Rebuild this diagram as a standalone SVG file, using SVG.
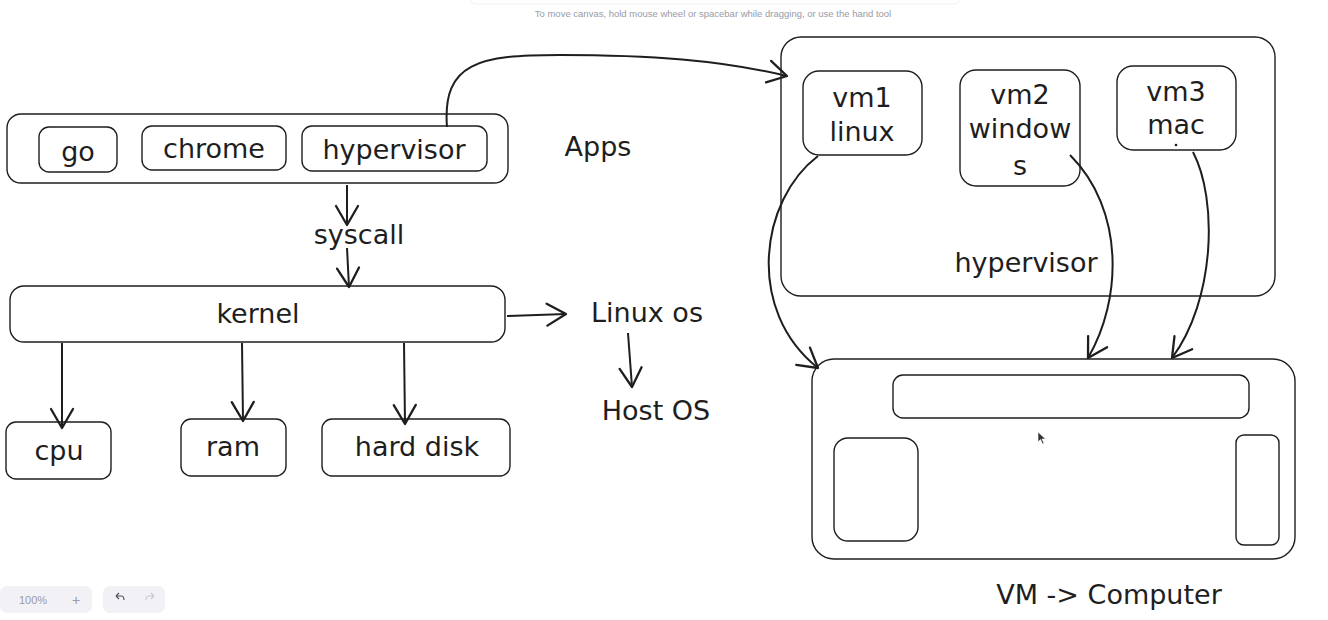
<svg xmlns="http://www.w3.org/2000/svg" width="1328" height="620" viewBox="0 0 1328 620">
<style>
.box{fill:none;stroke:#1e1e1e;stroke-width:1.4}
.lbl{font-family:"DejaVu Sans","Liberation Sans",sans-serif;font-size:27px;fill:#1e1e1e;text-anchor:middle;dominant-baseline:central}
.conn{fill:none;stroke:#1e1e1e;stroke-width:2}
.ui{font-family:"Liberation Sans","DejaVu Sans",sans-serif;fill:#9a9aa6;text-anchor:middle;dominant-baseline:central}
</style>
<defs>
<marker id="ah" viewBox="-22 -14 24 28" markerWidth="24" markerHeight="28" refX="0" refY="0" orient="auto" markerUnits="userSpaceOnUse">
<path d="M -19 -11 L 0 0 L -19 11" fill="none" stroke="#1e1e1e" stroke-width="2.3" stroke-linecap="round" stroke-linejoin="round"/>
</marker>
</defs>
<rect width="1328" height="620" fill="#ffffff"/>

<!-- UI chrome -->
<rect x="470" y="-10" width="490" height="14" rx="6" fill="#ffffff" stroke="#f0f0f3" stroke-width="1"/>
<text class="ui" x="713" y="13" font-size="9.5">To move canvas, hold mouse wheel or spacebar while dragging, or use the hand tool</text>
<rect x="0" y="586" width="92" height="27" rx="7" fill="#f1f1f6"/>
<text class="ui" x="33" y="600" font-size="11" fill="#55555f">100%</text>
<text class="ui" x="76" y="600" font-size="14" fill="#55555f">+</text>
<rect x="103" y="586" width="62" height="27" rx="7" fill="#f1f1f6"/>
<path d="M 116 596 L 119 593 M 116 596 L 119 599 M 116 596 L 121 596 Q 124 596 124 600" fill="none" stroke="#55555f" stroke-width="1.2"/>
<path d="M 154 596 L 151 593 M 154 596 L 151 599 M 154 596 L 149 596 Q 146 596 146 600" fill="none" stroke="#c8c8d0" stroke-width="1.2"/>

<g id="apps-container"><rect class="box" x="7" y="114" width="501" height="69" rx="14"/></g>
<g id="go"><rect class="box" x="39" y="127" width="78" height="45" rx="10"/><text class="lbl" x="78" y="151">go</text></g>
<g id="chrome"><rect class="box" x="142" y="126" width="144" height="44" rx="10"/><text class="lbl" x="214" y="148">chrome</text></g>
<g id="hypervisor-app"><rect class="box" x="302" y="126" width="185" height="45" rx="10"/><text class="lbl" x="394" y="149">hypervisor</text></g>
<g id="apps-label"><text class="lbl" x="598" y="146">Apps</text></g>
<g id="syscall"><text class="lbl" x="359" y="234">syscall</text></g>
<g id="kernel"><rect class="box" x="10" y="286" width="495" height="56" rx="14"/><text class="lbl" x="258" y="313">kernel</text></g>
<g id="linux-os"><text class="lbl" x="647" y="312">Linux os</text></g>
<g id="host-os"><text class="lbl" x="656" y="410">Host OS</text></g>
<g id="cpu"><rect class="box" x="6" y="422" width="105" height="57" rx="10"/><text class="lbl" x="59" y="450">cpu</text></g>
<g id="ram"><rect class="box" x="181" y="419" width="105" height="57" rx="10"/><text class="lbl" x="233" y="446">ram</text></g>
<g id="hard-disk"><rect class="box" x="322" y="419" width="188" height="57" rx="10"/><text class="lbl" x="417" y="446">hard disk</text></g>

<g id="hypervisor-container"><rect class="box" x="781" y="37" width="494" height="259" rx="20"/><text class="lbl" x="1026" y="262">hypervisor</text></g>
<g id="vm1"><rect class="box" x="803" y="71" width="119" height="84" rx="16"/><text class="lbl" x="862" y="97">vm1</text><text class="lbl" x="862" y="131">linux</text></g>
<g id="vm2"><rect class="box" x="960" y="70" width="120" height="116" rx="16"/><text class="lbl" x="1020" y="94">vm2</text><text class="lbl" x="1020" y="128">window</text><text class="lbl" x="1020" y="165">s</text></g>
<g id="vm3"><rect class="box" x="1117" y="66" width="119" height="84" rx="16"/><text class="lbl" x="1176" y="91">vm3</text><text class="lbl" x="1176" y="124">mac</text><circle cx="1176" cy="145" r="1.3" fill="#1e1e1e"/></g>

<g id="computer"><rect class="box" x="812" y="359" width="483" height="200" rx="22"/>
<rect class="box" x="893" y="375" width="356" height="43" rx="10"/>
<rect class="box" x="834" y="438" width="84" height="103" rx="14"/>
<rect class="box" x="1236" y="435" width="43" height="110" rx="8"/>
<text class="lbl" x="1109" y="594">VM -&gt; Computer</text></g>

<path d="M 1038 432 L 1038 442 L 1040.5 439.5 L 1042.5 444 L 1044 443.3 L 1042 439 L 1045.5 439 Z" fill="#333" stroke="#fff" stroke-width="0.6"/>

<g id="connectors">
<path class="conn" d="M 347 185 L 347 225" marker-end="url(#ah)"/>
<path class="conn" d="M 347 248 L 349 287" marker-end="url(#ah)"/>
<path class="conn" d="M 507 316 L 566 314" marker-end="url(#ah)"/>
<path class="conn" d="M 628 333 L 632 387" marker-end="url(#ah)"/>
<path class="conn" d="M 62 343 L 62 428" marker-end="url(#ah)"/>
<path class="conn" d="M 242 343 L 243 421" marker-end="url(#ah)"/>
<path class="conn" d="M 404 343 L 405 424" marker-end="url(#ah)"/>
<path class="conn" d="M 447 127 C 442 62 480 55 560 55 C 650 55 720 60 787 76" marker-end="url(#ah)"/>
<path class="conn" d="M 818 156 C 760 200 745 310 818 368" marker-end="url(#ah)"/>
<path class="conn" d="M 1070 155 C 1125 210 1122 300 1088 358" marker-end="url(#ah)"/>
<path class="conn" d="M 1193 152 C 1218 200 1215 300 1172 358" marker-end="url(#ah)"/>
</g>
</svg>
